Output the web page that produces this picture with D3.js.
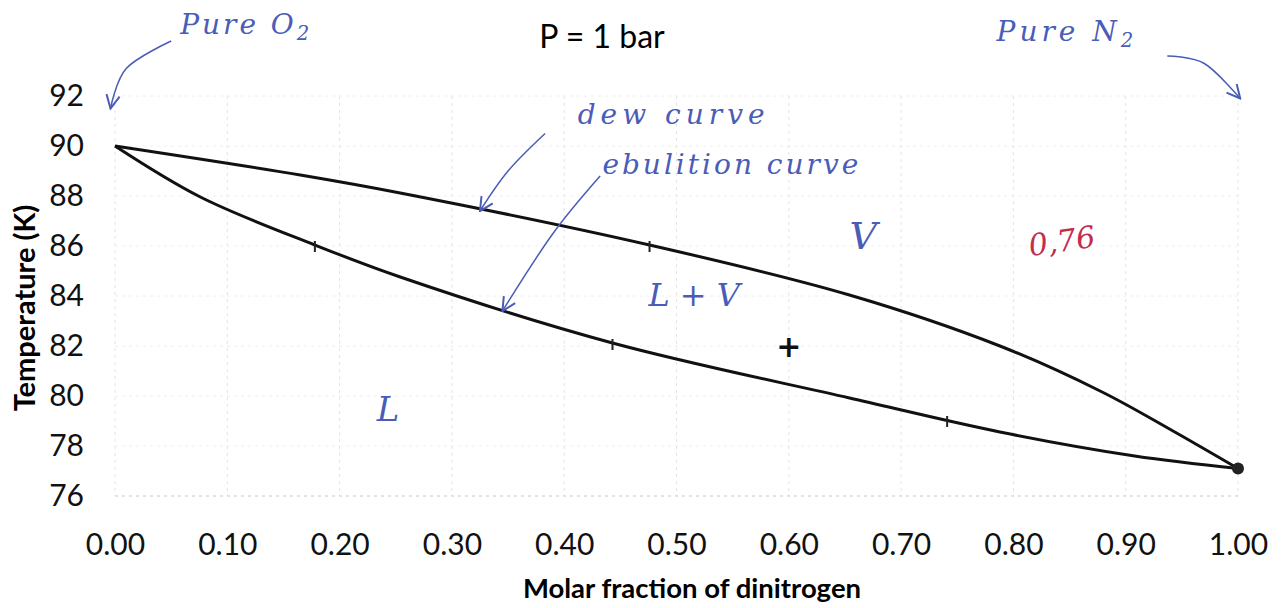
<!DOCTYPE html>
<html>
<head>
<meta charset="utf-8">
<script src="https://cdn.jsdelivr.net/npm/d3@7"></script>
<style>
  body { margin: 0; background: #fff; }
  .axis text { font-family: Lato, "Open Sans", sans-serif; fill: #111; }
  .hand { font-family: "DejaVu Serif", serif; font-style: italic; fill: #4a5cb8; }
</style>
</head>
<body>
<div id="chart"></div>
<script>
// molar fraction of N2 and temperature (K)
var dewX = [0, 0.165, 0.254, 0.476, 0.654, 0.788, 0.879, 0.939, 1.0];
var dewT = [90, 88.84, 88.12, 86.04, 84.04, 82.0, 80.16, 78.68, 77.1];

var bubX = [0, 0.076, 0.178, 0.254, 0.443, 0.654, 0.788, 0.908, 1.0];
var bubT = [90, 87.96, 86.04, 84.76, 82.12, 79.92, 78.56, 77.6, 77.1];

// hand-marked points on the curves
var markX = [0.178, 0.443, 0.741, 0.476];
var markT = [86.04, 82.12, 79.04, 86.04];

var xTicks = [0, 0.1, 0.2, 0.3, 0.4, 0.5, 0.6, 0.7, 0.8, 0.9, 1.0];
var yTicks = [76, 78, 80, 82, 84, 86, 88, 90, 92];

var width = 1281, height = 608;

var svg = d3.select("#chart").append("svg")
    .attr("width", width)
    .attr("height", height);

var x = d3.scaleLinear().domain([0, 1]).range([115, 1238]);
var y = d3.scaleLinear().domain([76, 92]).range([496, 96]);

// faint grid
svg.append("g").selectAll("line")
    .data(xTicks).enter().append("line")
    .attr("x1", function(d) { return x(d); })
    .attr("x2", function(d) { return x(d); })
    .attr("y1", y(92)).attr("y2", y(76))
    .attr("stroke", "#e4e4e4").attr("stroke-dasharray", "3,4");

svg.append("g").selectAll("line")
    .data(yTicks).enter().append("line")
    .attr("x1", x(0)).attr("x2", x(1))
    .attr("y1", function(d) { return y(d); })
    .attr("y2", function(d) { return y(d); })
    .attr("stroke", function(d) { return d === 76 ? "#c8c8c8" : "#eeeeee"; })
    .attr("stroke-dasharray", "3,4");

// axes
var xAxis = d3.axisBottom(x).tickValues(xTicks).tickFormat(d3.format(".2f"))
    .tickSize(0).tickPadding(38);
var yAxis = d3.axisLeft(y).tickValues(yTicks).tickSize(0).tickPadding(31);

svg.append("g").attr("class", "axis")
    .attr("transform", "translate(0," + y(76) + ")")
    .call(xAxis)
    .call(function(g) { g.select(".domain").remove(); })
    .selectAll("text").style("font-size", "30px");

svg.append("g").attr("class", "axis")
    .attr("transform", "translate(" + x(0) + ",0)")
    .call(yAxis)
    .call(function(g) { g.select(".domain").remove(); })
    .selectAll("text").style("font-size", "30px");

// titles
svg.append("text")
    .attr("x", 602).attr("y", 48)
    .attr("text-anchor", "middle")
    .style("font-family", "Lato, sans-serif").style("font-size", "32px")
    .text("P = 1 bar");

svg.append("text")
    .attr("x", 692).attr("y", 598)
    .attr("text-anchor", "middle")
    .style("font-family", "Lato, sans-serif").style("font-size", "27.5px")
    .style("font-weight", "bold")
    .text("Molar fraction of dinitrogen");

svg.append("text")
    .attr("transform", "translate(35,308) rotate(-90)")
    .attr("text-anchor", "middle")
    .style("font-family", "Lato, sans-serif").style("font-size", "29px")
    .style("font-weight", "bold")
    .text("Temperature (K)");

// curves
var line = d3.line()
    .x(function(d) { return x(d[0]); })
    .y(function(d) { return y(d[1]); })
    .curve(d3.curveCatmullRom.alpha(0.5));

svg.append("path")
    .datum(d3.zip(dewX, dewT))
    .attr("d", line)
    .attr("fill", "none").attr("stroke", "#111").attr("stroke-width", 3);

svg.append("path")
    .datum(d3.zip(bubX, bubT))
    .attr("d", line)
    .attr("fill", "none").attr("stroke", "#111").attr("stroke-width", 3);

// little pen ticks on the points
svg.append("g").selectAll("line")
    .data(d3.zip(markX, markT)).enter().append("line")
    .attr("x1", function(d) { return x(d[0]); })
    .attr("x2", function(d) { return x(d[0]); })
    .attr("y1", function(d) { return y(d[1]) - 4; })
    .attr("y2", function(d) { return y(d[1]) + 7; })
    .attr("stroke", "#222").attr("stroke-width", 2);

svg.append("circle")
    .attr("cx", x(1)).attr("cy", y(77.1)).attr("r", 6)
    .attr("fill", "#222");

// handwritten notes
svg.append("defs").append("marker")
    .attr("id", "head")
    .attr("viewBox", "0 0 12 12")
    .attr("refX", 11).attr("refY", 6)
    .attr("markerWidth", 16).attr("markerHeight", 16)
    .attr("markerUnits", "userSpaceOnUse")
    .attr("orient", "auto")
    .append("path")
    .attr("d", "M1,1 L11,6 L1,11")
    .attr("fill", "none").attr("stroke", "#4a5cb8").attr("stroke-width", 1.5);

var arrows = [
    [[0.05, 94.2], [0.01, 93.1], [-0.004, 91.5]],
    [[0.383, 90.5], [0.35, 89.0], [0.325, 87.4]],
    [[0.432, 88.8], [0.39, 86.5], [0.345, 83.4]],
    [[0.937, 93.6], [0.97, 93.3], [1.002, 91.9]]
];

var arrowLine = d3.line()
    .x(function(d) { return x(d[0]); })
    .y(function(d) { return y(d[1]); })
    .curve(d3.curveCardinal);

svg.append("g").selectAll("path")
    .data(arrows).enter().append("path")
    .attr("d", arrowLine)
    .attr("fill", "none")
    .attr("stroke", "#4a5cb8").attr("stroke-width", 1.5)
    .attr("marker-end", "url(#head)");

var notes = [
    { t: "Pure O", sub: "2", x: 0.058, y: 94.5, s: 28, ls: 3 },
    { t: "Pure N", sub: "2", x: 0.785, y: 94.2, s: 28, ls: 4 },
    { t: "dew curve", x: 0.412, y: 90.9, s: 28, ls: 5 },
    { t: "ebulition curve", x: 0.434, y: 88.9, s: 28, ls: 3 },
    { t: "V", x: 0.654, y: 85.9, s: 38, ls: 0 },
    { t: "L + V", x: 0.475, y: 83.6, s: 32, ls: 0 },
    { t: "L", x: 0.233, y: 79.0, s: 34, ls: 0 }
];

notes.forEach(function(n) {
    var t = svg.append("text").attr("class", "hand")
        .attr("x", x(n.x)).attr("y", y(n.y))
        .style("font-size", n.s + "px")
        .style("letter-spacing", n.ls + "px")
        .text(n.t);
    if (n.sub) {
        t.append("tspan").attr("dy", 6).style("font-size", (n.s * 0.7) + "px").text(n.sub);
    }
});

svg.append("text")
    .attr("x", x(0.815)).attr("y", y(85.6))
    .attr("transform", "rotate(-8," + x(0.815) + "," + y(85.6) + ")")
    .attr("class", "hand")
    .style("fill", "#c42c4e").style("font-size", "30px")
    .text("0,76");

svg.append("text")
    .attr("x", x(0.6)).attr("y", y(82))
    .attr("text-anchor", "middle").attr("dy", "0.35em")
    .style("font-family", "DejaVu Sans, sans-serif").style("font-size", "30px")
    .style("font-weight", "bold").style("fill", "#111")
    .text("+");
</script>
</body>
</html>
